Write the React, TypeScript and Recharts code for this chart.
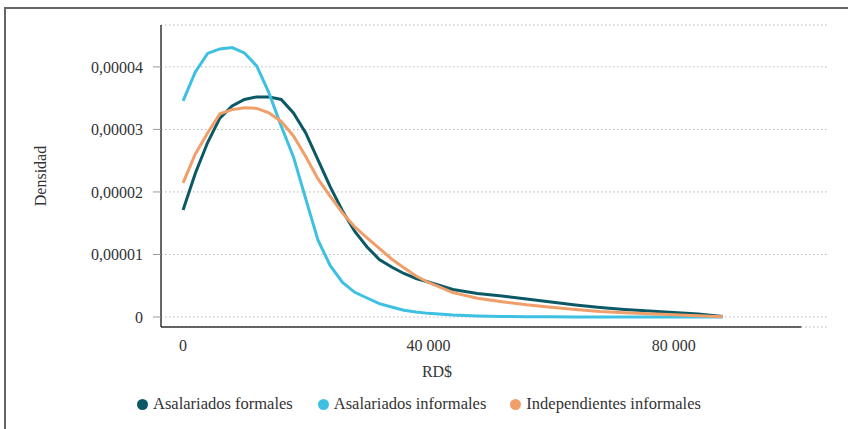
import React from 'react';
import { LineChart, Line, XAxis, YAxis, CartesianGrid, ReferenceLine, Legend } from 'recharts';

const incomes = [
  0, 2000, 4000, 6000, 8000, 10000, 12000, 14000, 16000, 18000, 20000,
  22000, 24000, 26000, 28000, 30000, 32000, 34000, 36000, 38000, 40000,
  44000, 48000, 52000, 56000, 60000, 64000, 68000, 72000, 76000, 80000, 84000, 88000,
];

const formales = [
  1.712e-5, 2.3e-5, 2.79e-5, 3.18e-5, 3.376e-5, 3.48e-5, 3.52e-5, 3.52e-5, 3.48e-5, 3.264e-5, 2.944e-5,
  2.512e-5, 2.08e-5, 1.696e-5, 1.368e-5, 1.12e-5, 0.92e-5, 0.8e-5, 0.696e-5, 0.616e-5, 0.56e-5,
  0.44e-5, 0.376e-5, 0.336e-5, 0.288e-5, 0.24e-5, 0.192e-5, 0.152e-5, 0.12e-5, 0.096e-5, 0.072e-5, 0.048e-5, 0.008e-5,
];

const informales = [
  3.456e-5, 3.92e-5, 4.216e-5, 4.288e-5, 4.31e-5, 4.224e-5, 4.016e-5, 3.584e-5, 3.056e-5, 2.56e-5, 1.89e-5,
  1.23e-5, 0.82e-5, 0.552e-5, 0.395e-5, 0.304e-5, 0.213e-5, 0.16e-5, 0.107e-5, 0.08e-5, 0.058e-5,
  0.032e-5, 0.016e-5, 0.008e-5, 0.004e-5, 0.002e-5, 0.001e-5, 0.0005e-5, 0, 0, 0, 0, 0,
];

const independientes = [
  2.144e-5, 2.608e-5, 2.944e-5, 3.25e-5, 3.317e-5, 3.347e-5, 3.336e-5, 3.264e-5, 3.128e-5, 2.896e-5, 2.568e-5,
  2.208e-5, 1.928e-5, 1.664e-5, 1.44e-5, 1.264e-5, 1.096e-5, 0.928e-5, 0.787e-5, 0.656e-5, 0.552e-5,
  0.39e-5, 0.3e-5, 0.245e-5, 0.195e-5, 0.155e-5, 0.12e-5, 0.088e-5, 0.067e-5, 0.051e-5, 0.035e-5, 0.019e-5, 0.003e-5,
];

const xTicks = [0, 40000, 80000];
const yTicks = [0, 0.00001, 0.00002, 0.00003, 0.00004];

const seriesNames = ['Asalariados formales', 'Asalariados informales', 'Independientes informales'];
const seriesKeys = ['formales', 'informales', 'independientes'];
const seriesColors = ['#0c5966', '#3ec0e2', '#f09f6a'];

const data = incomes.map((x, i) => ({
  x,
  formales: formales[i],
  informales: informales[i],
  independientes: independientes[i],
}));

const X_MIN = -3600;
const X_MAX = 105000;
const X_LINE_END = 100800;
const Y_MIN = -0.0000016;
const Y_MAX = 0.0000467;

const FONT = "'Liberation Serif', 'DejaVu Serif', serif";
const TEXT = '#333333';

const fmtY = (v: number) => (v === 0 ? '0' : v.toFixed(5).replace('.', ','));
const fmtX = (v: number) => v.toLocaleString('en-US').replace(/,/g, ' ');

const renderLegend = () => (
  <div style={{ display: 'flex', alignItems: 'center', fontFamily: FONT, fontSize: 16.5, color: TEXT }}>
    {seriesNames.map((n, i) => (
      <div key={n} style={{ display: 'flex', alignItems: 'center', marginRight: i === 0 ? 25 : 24 }}>
        <span
          style={{
            display: 'inline-block',
            width: 11,
            height: 11,
            borderRadius: '50%',
            background: seriesColors[i],
            marginRight: 5,
          }}
        />
        <span>{n}</span>
      </div>
    ))}
  </div>
);

export default function App() {
  return (
    <div style={{ position: 'absolute', left: 0, top: 0, width: 848, height: 429, background: '#fff', overflow: 'hidden', fontFamily: FONT }}>
      <div
        style={{
          position: 'absolute',
          left: 4,
          top: 7,
          width: 900,
          height: 500,
          borderLeft: '2px solid #666',
          borderTop: '2px solid #666',
        }}
      />
      <div style={{ position: 'absolute', left: 0, top: 0 }}>
        <LineChart
          width={848}
          height={429}
          data={data}
          margin={{ top: 25, right: 21, left: 20, bottom: 52 }}
          style={{ fontFamily: FONT }}
        >
          <CartesianGrid vertical={false} stroke="#b5b5b5" strokeDasharray="1.5 2.5" />
          <XAxis
            dataKey="x"
            type="number"
            domain={[X_MIN, X_MAX]}
            ticks={xTicks}
            tickFormatter={fmtX}
            axisLine={false}
            tickLine={false}
            tickMargin={7}
            height={50}
            allowDataOverflow
            tick={{ fontSize: 16, fill: TEXT, fontFamily: FONT }}
            label={{ value: 'RD$', position: 'insideBottom', offset: 0, dx: -57, fontSize: 16, fill: TEXT, fontFamily: FONT }}
          />
          <YAxis
            type="number"
            domain={[Y_MIN, Y_MAX]}
            ticks={yTicks}
            tickFormatter={fmtY}
            width={141}
            allowDataOverflow
            axisLine={{ stroke: '#333', strokeWidth: 1.5 }}
            tickLine={{ stroke: '#999' }}
            tickSize={8}
            tickMargin={10}
            tick={{ fontSize: 16, fill: TEXT, fontFamily: FONT }}
            label={{
              value: 'Densidad',
              angle: -90,
              position: 'insideLeft',
              offset: 20,
              fontSize: 16,
              fill: TEXT,
              fontFamily: FONT,
              style: { textAnchor: 'middle' },
            }}
          />
          <ReferenceLine
            segment={[{ x: X_MIN, y: Y_MIN }, { x: X_LINE_END, y: Y_MIN }]}
            stroke="#333"
            strokeWidth={1.5}
            ifOverflow="visible"
          />
          {seriesKeys.map((k, i) => (
            <Line
              key={k}
              type="linear"
              dataKey={k}
              name={seriesNames[i]}
              stroke={seriesColors[i]}
              strokeWidth={3}
              dot={false}
              activeDot={false}
              isAnimationActive={false}
            />
          ))}
          <Legend
            layout="horizontal"
            verticalAlign="middle"
            align="center"
            content={renderLegend}
            wrapperStyle={{ top: 394, left: 137, width: 711, height: 22 }}
          />
        </LineChart>
      </div>
    </div>
  );
}
